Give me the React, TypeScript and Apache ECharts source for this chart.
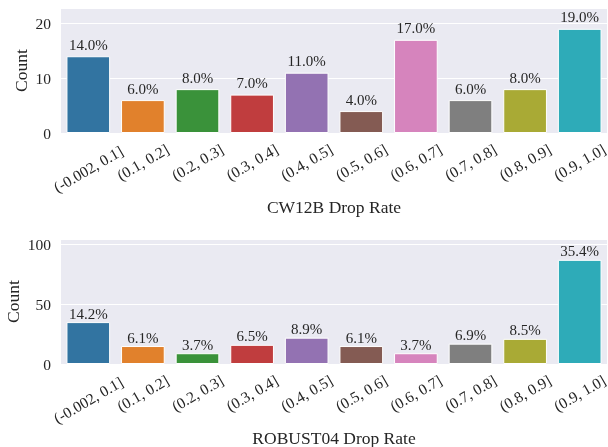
import React, { useEffect, useRef } from "react";
import * as echarts from "echarts";

const categories = [
  "(-0.002, 0.1]",
  "(0.1, 0.2]",
  "(0.2, 0.3]",
  "(0.3, 0.4]",
  "(0.4, 0.5]",
  "(0.5, 0.6]",
  "(0.6, 0.7]",
  "(0.7, 0.8]",
  "(0.8, 0.9]",
  "(0.9, 1.0]",
];
const cw12bCounts = [14, 6, 8, 7, 11, 4, 17, 6, 8, 19];
const robust04Counts = [35, 15, 9, 16, 22, 15, 9, 17, 21, 87];
const topTicks = [0, 10, 20];
const bottomTicks = [0, 50, 100];

const palette = [
  "#3274a1",
  "#e1812c",
  "#3a923a",
  "#c03d3e",
  "#9372b2",
  "#845b53",
  "#d684bd",
  "#7f7f7f",
  "#a9aa35",
  "#2eabb8",
];

const FONT = '"Liberation Serif", serif';
const TEXT = "#262626";

function sum(a: number[]) {
  return a.reduce((s, v) => s + v, 0);
}

export default function App() {
  const ref = useRef<HTMLDivElement>(null);
  useEffect(() => {
    if (!ref.current) return;
    const chart = echarts.init(ref.current, null, { renderer: "svg" });
    const grids = [
      { left: 61, top: 8, width: 546, height: 125 },
      { left: 61, top: 239, width: 546, height: 125 },
    ];
    const datasets = [
      { counts: cw12bCounts, name: "CW12B Drop Rate", ticks: topTicks, dist: 4, yGap: 31 },
      { counts: robust04Counts, name: "ROBUST04 Drop Rate", ticks: bottomTicks, dist: 1, yGap: 39 },
    ];
    const option: any = {
      animation: false,
      grid: grids.map((g) => ({
        ...g,
        show: true,
        containLabel: false,
        outerBoundsMode: "none",
        backgroundColor: "#eaeaf2",
        borderWidth: 0,
      })),
      xAxis: datasets.map((d, i) => ({
        type: "category",
        gridIndex: i,
        data: categories,
        axisLine: { show: false },
        axisTick: { show: false },
        splitLine: { show: false },
        axisLabel: {
          interval: 0,
          rotate: 30,
          align: "center",
          verticalAlign: "middle",
          margin: 29,
          fontSize: 15.5,
          fontFamily: FONT,
          color: TEXT,
          formatter: (v: string, idx: number) => (idx === 0 ? `{long|${v}}` : v),
          rich: {
            long: {
              fontSize: 15.5,
              fontFamily: FONT,
              color: TEXT,
              padding: [12, 7, 0, 0],
            },
          },
        },
        name: d.name,
        nameLocation: "middle",
        nameGap: 65,
        nameMoveOverlap: false,
        nameTextStyle: { fontSize: 17.5, fontFamily: FONT, color: TEXT },
      })),
      yAxis: datasets.map((d, i) => {
        const step = d.ticks[1] - d.ticks[0];
        return {
          type: "value",
          gridIndex: i,
          min: d.ticks[0],
          max: Math.max(...d.counts) * 1.2,
          interval: step,
          axisLine: { show: false },
          axisTick: { show: false },
          axisLabel: {
            showMaxLabel: false,
            margin: 10,
            fontSize: 15.5,
            fontFamily: FONT,
            color: TEXT,
            formatter: (v: number) => (d.ticks.includes(v) ? String(v) : ""),
          },
          splitLine: { lineStyle: { color: "#ffffff", width: 1 } },
          name: "Count",
          nameLocation: "middle",
          nameRotate: 90,
          nameGap: d.yGap,
          nameMoveOverlap: false,
          nameTextStyle: { fontSize: 17.5, fontFamily: FONT, color: TEXT },
        };
      }),
      series: datasets.map((d, i) => {
        const total = sum(d.counts);
        return {
          type: "bar",
          xAxisIndex: i,
          yAxisIndex: i,
          barCategoryGap: "20%",
          data: d.counts.map((v, j) => ({
            value: v,
            itemStyle: { color: palette[j] },
          })),
          itemStyle: { borderColor: "#ffffff", borderWidth: 1 },
          label: {
            show: true,
            position: "top",
            distance: d.dist,
            fontSize: 15,
            fontFamily: FONT,
            color: TEXT,
            formatter: (p: any) => ((p.value / total) * 100).toFixed(1) + "%",
          },
        };
      }),
    };
    chart.setOption(option);
    return () => chart.dispose();
  }, []);
  return (
    <div
      ref={ref}
      style={{ position: "fixed", left: 0, top: 0, width: 608, height: 447 }}
    />
  );
}
